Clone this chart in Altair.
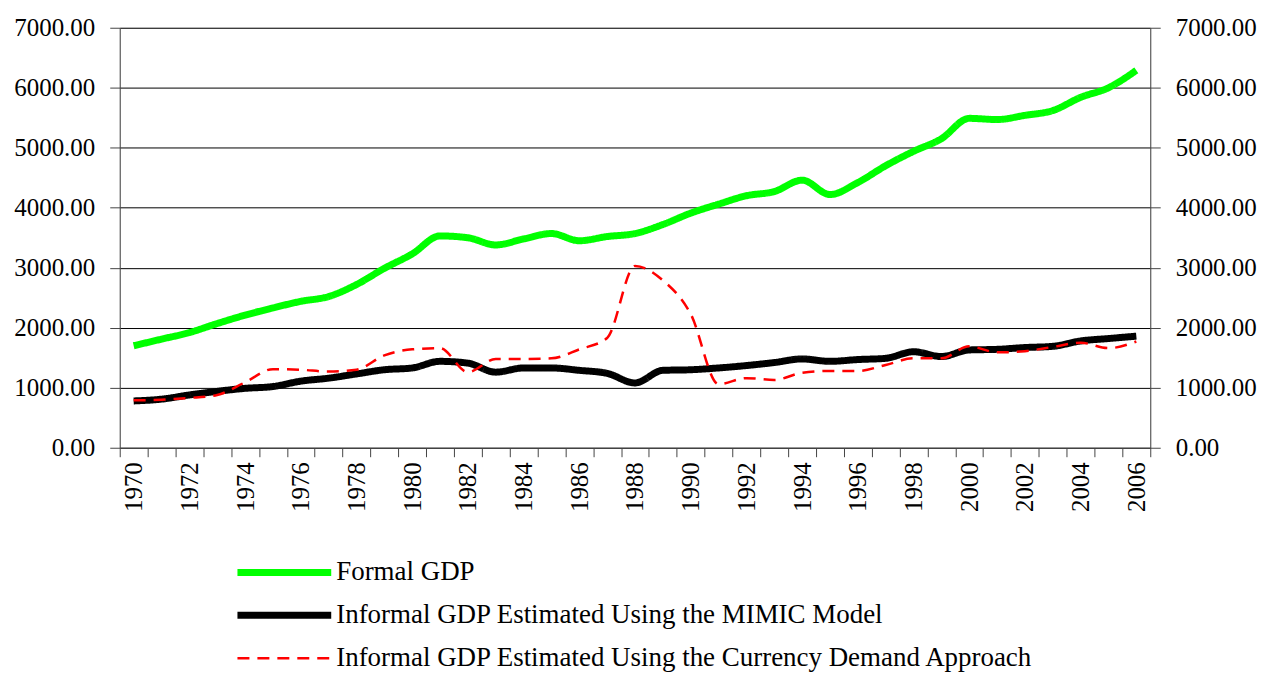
import altair as alt
import pandas as pd

years = list(range(1970, 2007))
formal_gdp = [1700, 1810, 1920, 2070, 2210, 2330, 2440, 2520, 2720, 2990, 3230, 3530, 3500,
              3380, 3480, 3570, 3450, 3520, 3570, 3720, 3910, 4060, 4200, 4270, 4460, 4220,
              4420, 4700, 4940, 5150, 5490, 5470, 5540, 5620, 5840, 6000, 6290]
mimic_gdp = [780, 810, 880, 940, 990, 1020, 1110, 1160, 1230, 1300, 1330, 1440, 1410, 1260,
             1330, 1330, 1290, 1240, 1080, 1290, 1300, 1330, 1370, 1420, 1480, 1440, 1470,
             1490, 1600, 1520, 1630, 1640, 1670, 1690, 1780, 1820, 1860]
currency_gdp = [790, 800, 830, 880, 1090, 1310, 1300, 1270, 1300, 1540, 1640, 1660, 1260,
                1480, 1480, 1490, 1640, 1830, 3030, 2790, 2230, 1060, 1160, 1130, 1250, 1280,
                1280, 1380, 1490, 1490, 1690, 1590, 1610, 1680, 1750, 1660, 1770]

s_formal = "Formal GDP"
s_mimic = "Informal GDP Estimated Using the MIMIC Model"
s_cur = "Informal GDP Estimated Using the Currency Demand Approach"
series_names = [s_formal, s_mimic, s_cur]
series_colors = ["#00ff00", "#000000", "#ff0000"]
series_widths = [7, 7, 2.5]
series_dashes = [[1, 0], [1, 0], [12, 8]]

rows = []
for name, vals in [(s_formal, formal_gdp), (s_mimic, mimic_gdp), (s_cur, currency_gdp)]:
    for y, v in zip(years, vals):
        rows.append({"year": y, "value": v, "series": name})
df = pd.DataFrame(rows)
legend_df = pd.DataFrame({"series": series_names})

FONT = "Liberation Serif"

x_enc = alt.X(
    "year:O",
    scale=alt.Scale(type="band", paddingInner=0, paddingOuter=0),
    bandPosition=0.5,
    axis=alt.Axis(
        title=None,
        tickBand="extent",
        labelExpr="datum.value % 2 == 0 ? datum.label : ''",
        labelAngle=270,
        labelAlign="right",
        labelBaseline="middle",
        labelFont=FONT,
        labelFontSize=25,
        labelColor="#000",
        labelPadding=5,
        tickSize=9,
        tickColor="#444",
        domainColor="#444",
        grid=False,
    ),
)

y_scale = alt.Scale(domain=[0, 7000], nice=False, zero=True)

color_enc = alt.Color(
    "series:N", scale=alt.Scale(domain=series_names, range=series_colors), legend=None
)
dash_enc = alt.StrokeDash(
    "series:N",
    scale=alt.Scale(type="ordinal", domain=series_names, range=series_dashes),
    legend=None,
)
width_enc = alt.StrokeWidth(
    "series:N",
    scale=alt.Scale(type="ordinal", domain=series_names, range=series_widths),
    legend=None,
)

axis_common = dict(
    title=None,
    values=list(range(0, 7001, 1000)),
    format=".2f",
    labelFont=FONT,
    labelFontSize=25,
    labelColor="#000",
    labelPadding=15,
    tickSize=10,
    tickColor="#444",
    domainColor="#444",
)

left_y = alt.Y(
    "value:Q",
    scale=y_scale,
    axis=alt.Axis(grid=True, gridColor="#000", gridWidth=1, **axis_common),
)


def series_layer(name):
    return (
        alt.Chart(df)
        .transform_filter(alt.datum.series == name)
        .mark_line(interpolate="monotone", strokeCap="butt", strokeJoin="round")
        .encode(x=x_enc, y=left_y, color=color_enc, strokeDash=dash_enc,
                strokeWidth=width_enc)
    )


lines = alt.layer(series_layer(s_formal), series_layer(s_mimic), series_layer(s_cur))

right_axis = (
    alt.Chart(df)
    .mark_line(strokeOpacity=0)
    .encode(
        x=x_enc,
        y=alt.Y(
            "value:Q",
            scale=y_scale,
            axis=alt.Axis(orient="right", grid=False, **axis_common),
        ),
        detail="series:N",
    )
)

# Legend drawn below the plot area
legend_y = alt.Y(
    "series:N",
    scale=alt.Scale(type="point", domain=series_names, range=[546, 632], padding=0),
    axis=None,
)
legend_symbols = (
    alt.Chart(legend_df)
    .mark_rule(strokeCap="butt")
    .encode(
        x=alt.value(118),
        x2=alt.value(212),
        y=legend_y,
        color=color_enc,
        strokeDash=dash_enc,
        strokeWidth=width_enc,
    )
)
legend_labels = (
    alt.Chart(legend_df)
    .mark_text(align="left", baseline="middle", font=FONT, fontSize=27, color="#000", dy=0)
    .encode(x=alt.value(217), y=legend_y, text="series:N")
)
legend_layer = alt.layer(legend_symbols, legend_labels)

chart = (
    alt.layer(lines, right_axis, legend_layer)
    .resolve_scale(y="independent")
    .properties(
        width=1033,
        height=421,
        autosize=alt.AutoSizeParams(type="none"),
        padding={"left": 112, "top": 19, "right": 108, "bottom": 224},
    )
    .configure_view(stroke=None)
    .configure(background="white")
)

chart.save("out.html", embed_options={"renderer": "svg", "actions": False})
